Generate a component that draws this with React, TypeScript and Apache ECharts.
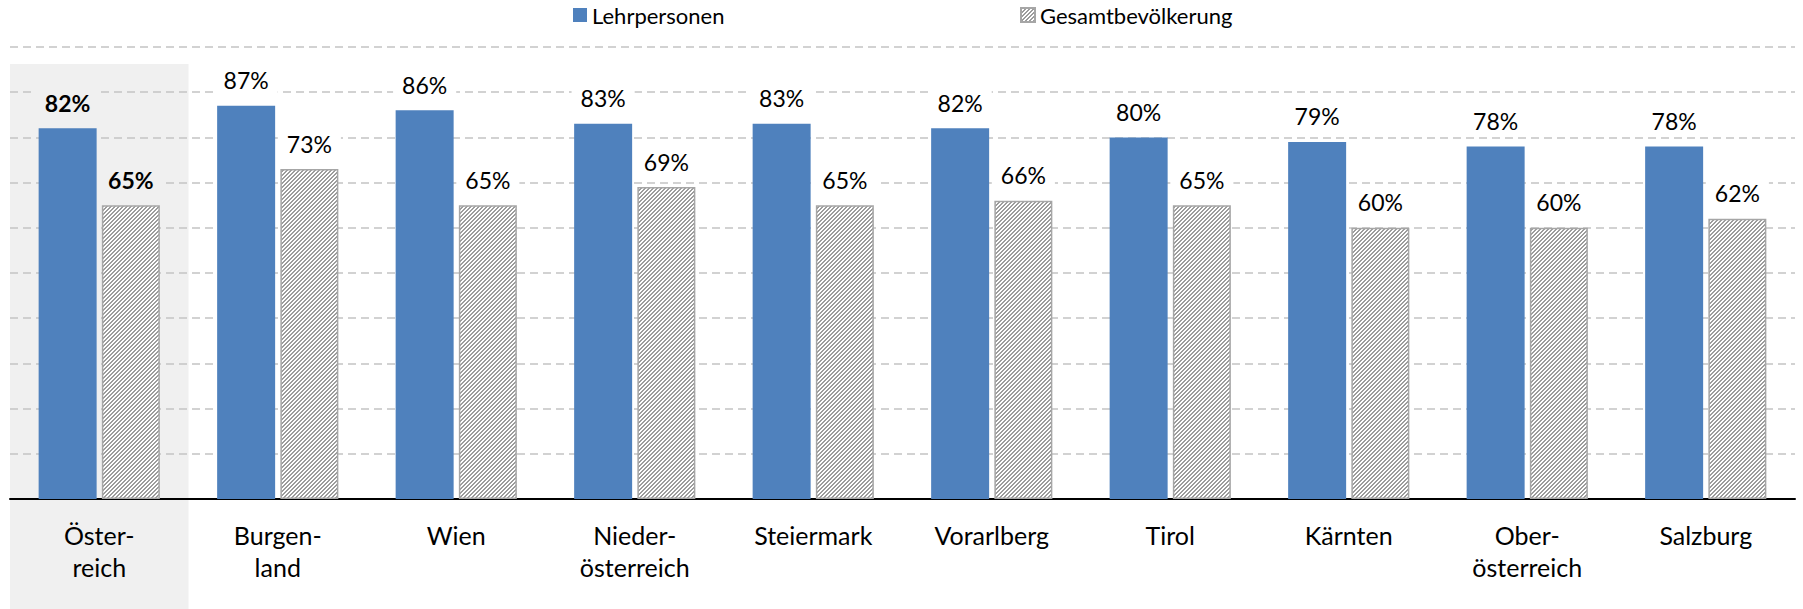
import React, { useEffect, useRef } from "react";
import * as echarts from "echarts";

const categories = [
  "Öster-\nreich",
  "Burgen-\nland",
  "Wien",
  "Nieder-\nösterreich",
  "Steiermark",
  "Vorarlberg",
  "Tirol",
  "Kärnten",
  "Ober-\nösterreich",
  "Salzburg",
];
const lehrpersonen = [82, 87, 86, 83, 83, 82, 80, 79, 78, 78];
const gesamt = [65, 73, 65, 69, 65, 66, 65, 60, 60, 62];
const seriesNames = ["Lehrpersonen", "Gesamtbevölkerung"];

const BLUE = "#4f81bd";
const GREY = "#a6a6a6";
const HATCH = "#9c9c9c";
const BAND = "#f0f0f0";
const FONT = "Lato";

function makeHatch() {
  const c = document.createElement("canvas");
  c.width = 8;
  c.height = 8;
  const ctx = c.getContext("2d")!;
  ctx.fillStyle = "#ffffff";
  ctx.fillRect(0, 0, 8, 8);
  ctx.fillStyle = HATCH;
  for (let y = 0; y < 8; y++)
    for (let x = 0; x < 8; x++) if ((x + y) % 4 < 2) ctx.fillRect(x, y, 1, 1);
  return c;
}

export default function App() {
  const ref = useRef<HTMLDivElement>(null);
  useEffect(() => {
    document.body.style.margin = "0";
    const chart = echarts.init(ref.current!, null, { renderer: "svg" });
    const hatch = { image: makeHatch(), repeat: "repeat" } as any;
    const labelBase = {
      show: true,
      position: "top",
      distance: 11,
      formatter: "{c}%",
      fontFamily: FONT,
      fontSize: 23,
      color: "#000",
      backgroundColor: "#fff",
      padding: [3, 9],
    };
    const mk = (arr: number[]) =>
      arr.map((v, i) =>
        i === 0
          ? { value: v, label: { fontWeight: "bold", backgroundColor: BAND } }
          : v
      );
    const legendText = { fontFamily: FONT, fontSize: 22, color: "#000" };
    chart.setOption({
      animation: false,
      textStyle: { fontFamily: FONT },
      legend: [
        {
          data: [seriesNames[0]],
          left: 573,
          top: 4,
          padding: 0,
          itemWidth: 14,
          itemHeight: 14,
          icon: "rect",
          textStyle: legendText,
        },
        {
          data: [seriesNames[1]],
          left: 1020,
          top: 4,
          padding: 0,
          itemWidth: 14,
          itemHeight: 14,
          icon: "rect",
          textStyle: legendText,
        },
      ],
      grid: { left: 10, right: 8, top: 47, bottom: 110, containLabel: false },
      xAxis: {
        type: "category",
        data: categories,
        axisTick: { show: false },
        axisLine: { lineStyle: { color: "#000", width: 2 } },
        axisLabel: {
          interval: 0,
          fontFamily: FONT,
          fontSize: 25,
          lineHeight: 32,
          color: "#000",
          margin: 20,
        },
      },
      yAxis: {
        type: "value",
        min: 0,
        max: 100,
        interval: 10,
        axisLabel: { show: false },
        axisLine: { show: false },
        axisTick: { show: false },
        splitLine: {
          lineStyle: { color: "#c4c4c4", width: 1.5, type: [8, 5] },
        },
      },
      series: [
        {
          name: seriesNames[0],
          type: "bar",
          data: mk(lehrpersonen),
          barWidth: 58,
          barGap: "9%",
          itemStyle: { color: BLUE },
          label: labelBase,
        },
        {
          name: seriesNames[1],
          type: "bar",
          data: mk(gesamt),
          barWidth: 58,
          itemStyle: { color: hatch, borderColor: GREY, borderWidth: 1.5 },
          label: labelBase,
        },
      ],
    });
    const x0 = chart.convertToPixel({ xAxisIndex: 0 }, categories[0]) as number;
    const x1 = chart.convertToPixel({ xAxisIndex: 0 }, categories[1]) as number;
    const w = x1 - x0;
    chart.setOption({
      graphic: [
        {
          type: "rect",
          z: -10,
          silent: true,
          shape: { x: x0 - w / 2, y: 64, width: w, height: 609 - 64 },
          style: { fill: BAND },
        },
      ],
    });
    return () => chart.dispose();
  }, []);
  return <div ref={ref} style={{ width: 1803, height: 609 }} />;
}
